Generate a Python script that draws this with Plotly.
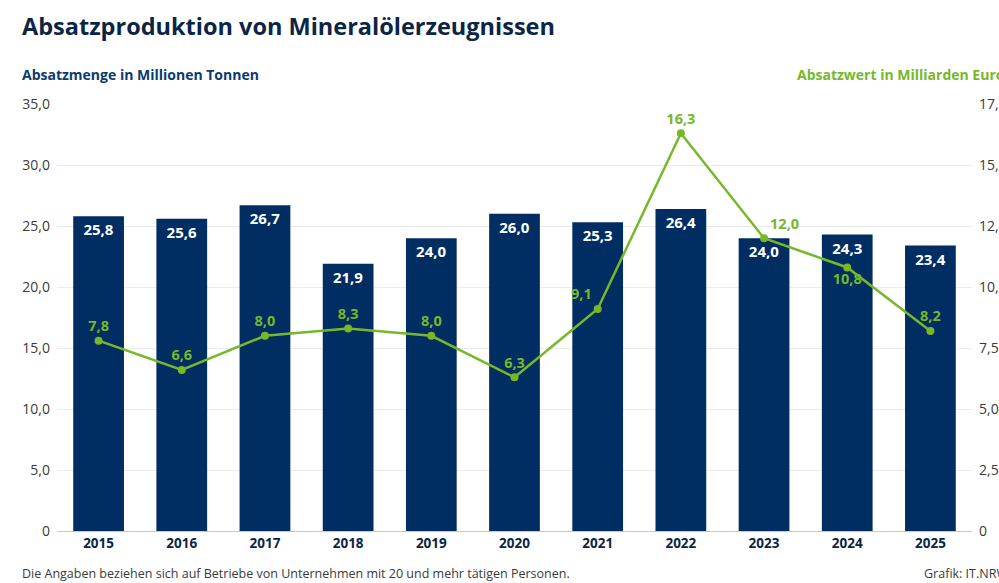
import plotly.graph_objects as go

years = ["2015", "2016", "2017", "2018", "2019", "2020", "2021", "2022", "2023", "2024", "2025"]
absatzmenge = [25.8, 25.6, 26.7, 21.9, 24.0, 26.0, 25.3, 26.4, 24.0, 24.3, 23.4]
absatzwert = [7.8, 6.6, 8.0, 8.3, 8.0, 6.3, 9.1, 16.3, 12.0, 10.8, 8.2]
wert_label_pos = ["top center", "top center", "top center", "top center", "top center",
                  "top center", "top left", "top center", "top right", "bottom center", "top center"]

left_ticks = [0, 5, 10, 15, 20, 25, 30, 35]
left_ticktext = ["0", "5,0", "10,0", "15,0", "20,0", "25,0", "30,0", "35,0"]
right_ticks = [0, 2.5, 5, 7.5, 10, 12.5, 15, 17.5]
right_ticktext = ["0", "2,5", "5,0", "7,5", "10,0", "12,5", "15,0", "17,5"]

navy = "#002d62"
green = "#76b82a"
font = "Open Sans"

# plot area in pixels: left 57, right 972 -> width 915
pw = 915

fig = go.Figure()

fig.add_trace(go.Bar(
    x=years, y=absatzmenge,
    marker=dict(color=navy, line=dict(width=0)),
    texttemplate="%{y:.1f}", textposition="inside", insidetextanchor="end",
    textfont=dict(family=font, size=15, color="white", weight="bold"),
    textangle=0, cliponaxis=False, showlegend=False,
))

fig.add_trace(go.Scatter(
    x=years, y=absatzwert, yaxis="y2", mode="lines+markers+text",
    line=dict(color=green, width=2.5),
    marker=dict(color=green, size=8),
    texttemplate="%{y:.1f}", textposition=wert_label_pos,
    textfont=dict(family=font, size=14.5, color=green, weight="bold"),
    cliponaxis=False, showlegend=False,
))

fig.update_layout(
    width=999, height=583,
    margin=dict(l=57, r=27, t=104, b=52, autoexpand=False),
    paper_bgcolor="white", plot_bgcolor="white",
    separators=",.",
    bargap=0.39,
    font=dict(family=font, size=14, color="#3a3a3a"),
    xaxis=dict(
        range=[-0.5, len(years) - 0.5],
        showgrid=False, showline=True, linecolor="#c8c8c8", linewidth=1,
        tickfont=dict(family=font, size=13.5, color="#0b2545", weight="bold"),
        ticks="", fixedrange=True, automargin=False,
    ),
    yaxis=dict(
        range=[0, 35], tickvals=left_ticks, ticktext=left_ticktext,
        showgrid=True, gridcolor="#ebebeb", gridwidth=1, zeroline=False,
        tickfont=dict(family=font, size=14, color="#3a3a3a"),
        ticklabelstandoff=6, automargin=False,
    ),
    yaxis2=dict(
        range=[0, 17.5], tickvals=right_ticks, ticktext=right_ticktext,
        overlaying="y", side="right", showgrid=False, zeroline=False,
        tickfont=dict(family=font, size=14, color="#3a3a3a"),
        ticklabelstandoff=6, automargin=False,
    ),
    annotations=[
        dict(text="<b>Absatzproduktion von Mineralölerzeugnissen</b>", xref="paper", yref="paper",
             x=-37 / pw, y=1, yshift=78, xanchor="left", yanchor="middle", showarrow=False,
             font=dict(family=font, size=23.5, color="#0b2545")),
        dict(text="<b>Absatzmenge in Millionen Tonnen</b>", xref="paper", yref="paper",
             x=-37 / pw, y=1, yshift=30, xanchor="left", yanchor="middle", showarrow=False,
             font=dict(family=font, size=14, color="#0b3a6e")),
        dict(text="<b>Absatzwert in Milliarden Euro</b>", xref="paper", yref="paper",
             x=738 / pw, y=1, yshift=30, xanchor="left", yanchor="middle", showarrow=False,
             font=dict(family=font, size=14, color=green)),
        dict(text="Die Angaben beziehen sich auf Betriebe von Unternehmen mit 20 und mehr tätigen Personen.",
             xref="paper", yref="paper", x=-37 / pw, y=0, yshift=-42, xanchor="left", yanchor="middle",
             showarrow=False, font=dict(family=font, size=12.5, color="#3a3a3a")),
        dict(text="Grafik: IT.NRW", xref="paper", yref="paper", x=865 / pw, y=0, yshift=-42,
             xanchor="left", yanchor="middle", showarrow=False,
             font=dict(family=font, size=12.5, color="#3a3a3a")),
    ],
)

# page body has an 8px default margin; drop it so the figure sits at the window corner
fig.write_html(
    "out.html",
    config={"displayModeBar": False},
    post_script="document.body.style.margin='0';document.body.style.overflow='hidden';",
)
